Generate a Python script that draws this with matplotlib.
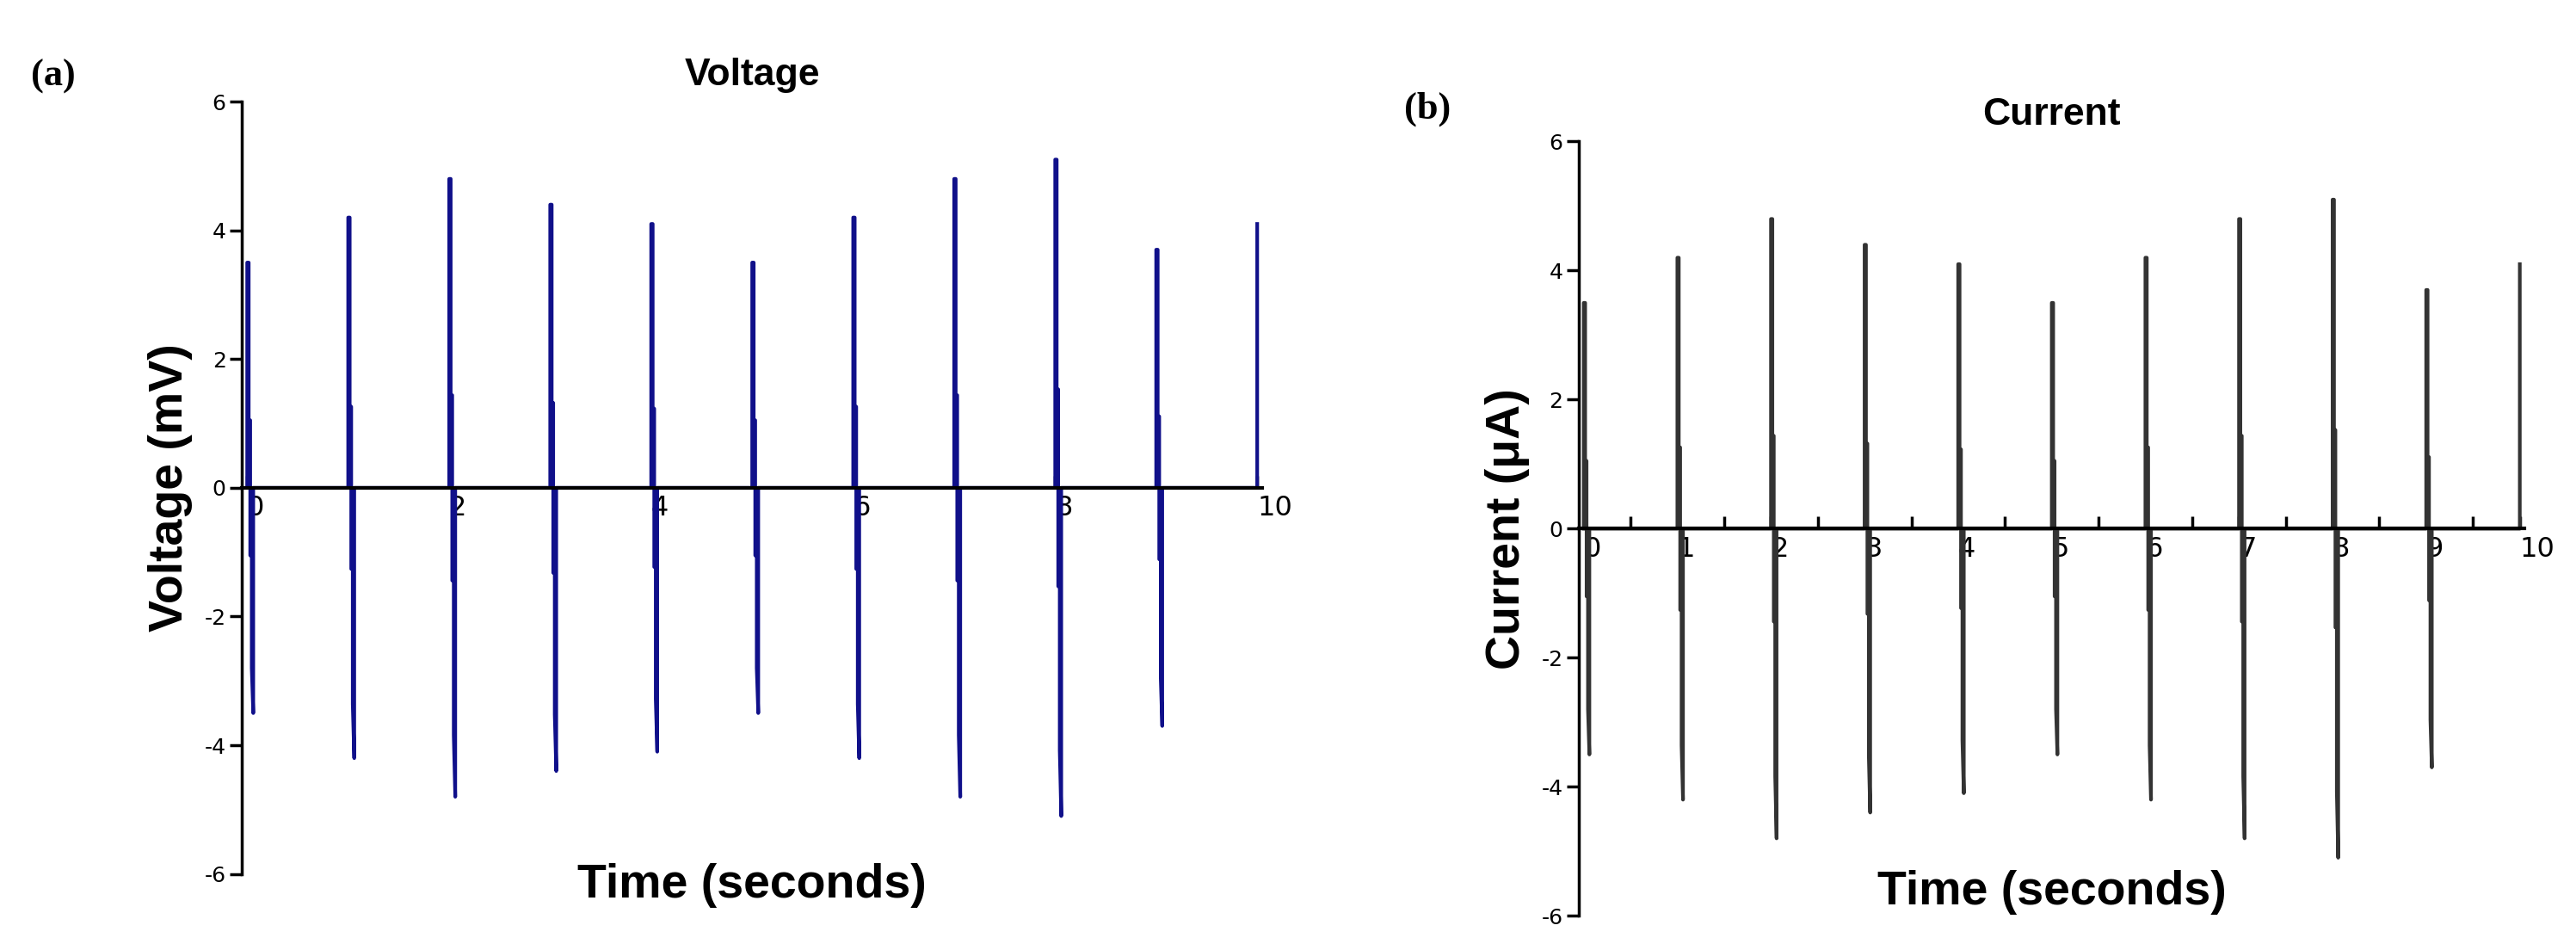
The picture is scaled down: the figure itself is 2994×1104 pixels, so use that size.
import numpy as np
import matplotlib.pyplot as plt

# pulse times and peak amplitudes
pulse_t = [0, 1, 2, 3, 4, 5, 6, 7, 8, 9, 10]
volt_pos = [3.5, 4.2, 4.8, 4.4, 4.1, 3.5, 4.2, 4.8, 5.1, 3.7, 4.1]
volt_neg = [-3.5, -4.2, -4.8, -4.4, -4.1, -3.5, -4.2, -4.8, -5.1, -3.7, 0]
curr_pos = [3.5, 4.2, 4.8, 4.4, 4.1, 3.5, 4.2, 4.8, 5.1, 3.7, 4.1]
curr_neg = [-3.5, -4.2, -4.8, -4.4, -4.1, -3.5, -4.2, -4.8, -5.1, -3.7, 0]
# staircase shape of each pulse (fraction of peak), offsets in seconds
shape_dt = [0.0, 0.0, 0.015, 0.015, 0.03, 0.03, 0.045, 0.045, 0.06, 0.06]
shape_up = [0.0, 1.0, 1.0, 0.3, 0.3, 0.0, 0.0, 0.0, 0.0, 0.0]
shape_dn = [0.0, 0.0, 0.0, 0.0, 0.0, 0.3, 0.3, 0.8, 1.0, 0.0]


def trace(pos, neg):
    xs, ys = [], []
    for t, p, n in zip(pulse_t, pos, neg):
        for dt, u, d in zip(shape_dt, shape_up, shape_dn):
            if t + dt > 10:
                continue
            xs.append(t + dt)
            ys.append(u * p + d * n)
    return xs, ys


fig = plt.figure(figsize=(29.94, 11.04), dpi=100)
ax1 = fig.add_axes([0.094, 0.08, 0.396, 0.813])
ax2 = fig.add_axes([0.613, 0.036, 0.367, 0.815])

panels = [
    (ax1, volt_pos, volt_neg, "#10108a", "Voltage", "Voltage (mV)", 2, "(a)", 0.012, 0.91, -0.015),
    (ax2, curr_pos, curr_neg, "#333333", "Current", "Current (\u03bcA)", 1, "(b)", 0.545, 0.875, 0.03),
]
for ax, pos, neg, col, title, ylab, step, tag, tx, ty, ly in panels:
    xs, ys = trace(pos, neg)
    ax.plot(xs, ys, color=col, lw=3)
    ax.set_xlim(-0.05, 10.05)
    ax.set_ylim(-6, 6)
    ax.spines["top"].set_visible(False)
    ax.spines["right"].set_visible(False)
    ax.spines["bottom"].set_position(("data", 0))
    ax.spines["left"].set_position(("data", -0.05))
    ax.spines["left"].set_linewidth(2.5)
    ax.spines["bottom"].set_linewidth(3)
    ax.set_xticks(np.arange(0, 11, step))
    if step == 1:
        ax.set_xticks(np.arange(0.5, 10, 1), minor=True)
    ax.set_yticks(np.arange(-6, 7, 2))
    ax.set_yticklabels([str(v) for v in range(-6, 7, 2)])
    ax.tick_params(axis="x", which="both", direction="in", length=10, width=2.5,
                   labelsize=23, pad=6)
    ax.tick_params(axis="y", direction="out", length=10, width=2.5, labelsize=18)
    for lab in ax.get_xticklabels():
        lab.set_horizontalalignment("left")
    ax.set_title(title, fontsize=32, fontweight="bold", family="Liberation Sans", pad=14)
    ax.set_ylabel(ylab, fontsize=40, fontweight="bold", family="Liberation Sans", labelpad=10)
    ax.text(0.5, ly, "Time (seconds)", transform=ax.transAxes, ha="center", va="center",
            fontsize=40, fontweight="bold", family="Liberation Sans")
    fig.text(tx, ty, tag, fontsize=32, fontweight="bold", family="Liberation Serif")

fig.savefig("out.png", dpi=100)
